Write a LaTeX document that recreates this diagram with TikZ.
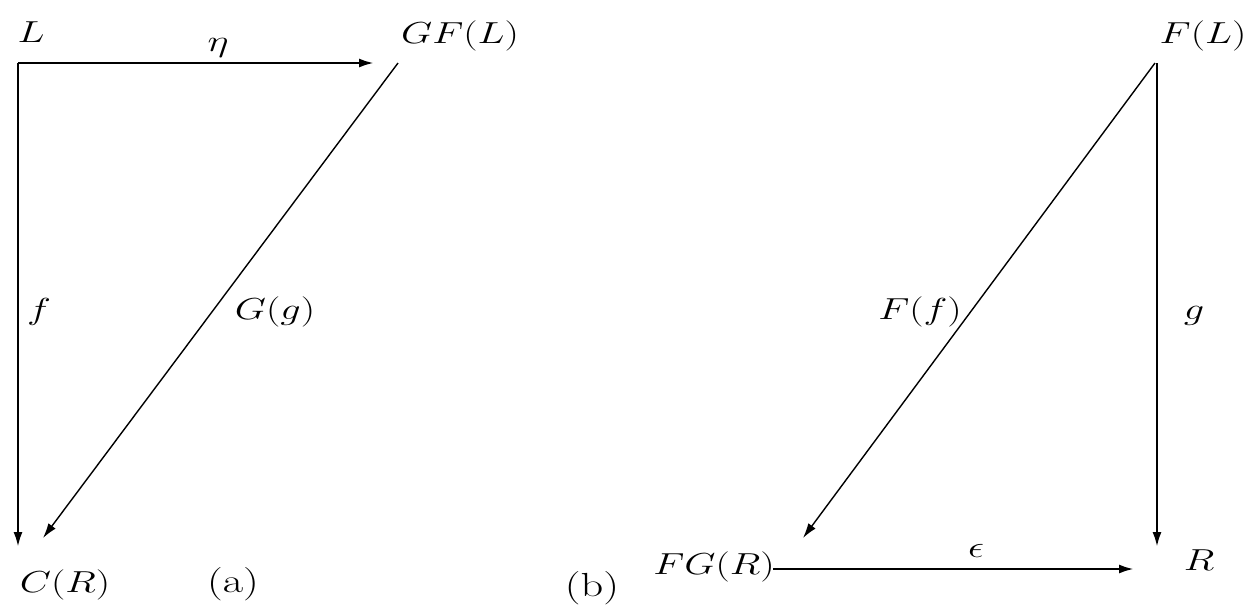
\documentclass[tikz,border=0pt]{standalone}
\usetikzlibrary{arrows.meta}
\newcommand{\wm}[1]{\scalebox{1.33}[1]{$#1$}}
\newcommand{\wt}[1]{\scalebox{1.33}[1]{#1}}
\begin{document}
\begin{tikzpicture}[x=0.02cm,y=-0.02cm,
  lbl/.style={inner sep=0pt,anchor=base,font=\fontsize{19}{22}\selectfont},
  thick arr/.style={line width=1.4pt,-{Latex[length=0.3cm,width=0.18cm]}},
  thin arr/.style={line width=0.8pt,-{Latex[length=0.3cm,width=0.18cm]}}]
\useasboundingbox (0,0) rectangle (1249,606);
% left diagram
\node[lbl] (L) at (31,42) {\wm{L}};
\node[lbl] (GFL) at (460,43) {\wm{GF(L)}};
\node[lbl] (CR) at (65,592) {\wm{C(R)}};
\node[lbl] (a) at (233,592) {\wt{(a)}};
\node[lbl] (f) at (39,319) {\wm{f}};
\node[lbl] (Gg) at (275,319) {\wm{G(g)}};
\node[lbl] (eta) at (218,51) {\wm{\eta}};
\coordinate (Lc) at (18,63);
\coordinate (etaEnd) at (374,63);
\coordinate (Lbot) at (18,547);
\coordinate (GFs) at (398,63);
\coordinate (CRt) at (43,538);
\draw[thick arr] (Lc) -- (etaEnd);
\draw[thick arr] (Lc) -- (Lbot);
\draw[thin arr] (GFs) -- (CRt);
% right diagram
\node[lbl] (FL) at (1203,43) {\wm{F(L)}};
\node[lbl] (FGR) at (714,574) {\wm{FG(R)}};
\node[lbl] (R) at (1199,570) {\wm{R}};
\node[lbl] (b) at (592,596) {\wt{(b)}};
\node[lbl] (Ff) at (920,319) {\wm{F(f)}};
\node[lbl] (g) at (1194,319) {\wm{g}};
\node[lbl] (eps) at (976,557) {\wm{\epsilon}};
\coordinate (FLc) at (1157,63);
\coordinate (FLd) at (1155,63);
\coordinate (Rt) at (1157,547);
\coordinate (FGRt) at (803,538);
\coordinate (FGRs) at (773,569);
\coordinate (Rl) at (1134,569);
\draw[thick arr] (FLc) -- (Rt);
\draw[thin arr] (FLd) -- (FGRt);
\draw[thick arr] (FGRs) -- (Rl);
\end{tikzpicture}
\end{document}
